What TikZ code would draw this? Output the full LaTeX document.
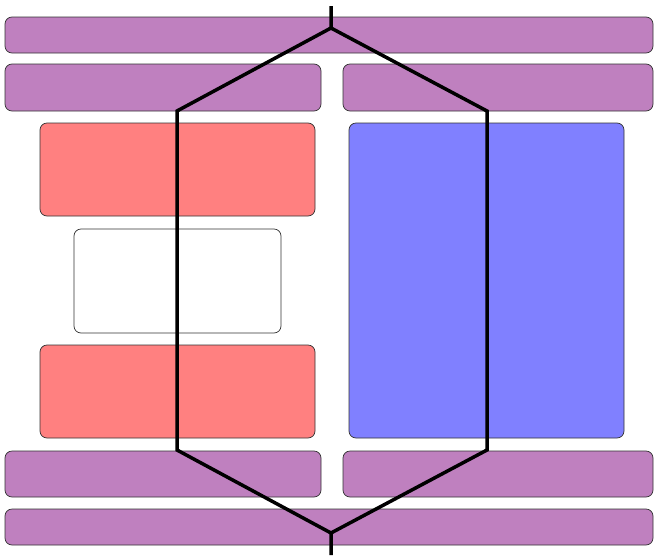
\documentclass[tikz,border=0pt]{standalone}
\begin{document}
\begin{tikzpicture}[x=1pt,y=-1pt,
  boxbase/.style={draw=black!80, line width=0.7pt, rounded corners=7pt},
  bar/.style={boxbase, fill=violet!50},
  redbox/.style={boxbase, fill=red!50},
  bluebox/.style={boxbase, fill=blue!50},
  whitebox/.style={boxbase, fill=white},
  path/.style={draw=black, line width=3.5pt}]
\useasboundingbox (0,0) rectangle (654,555);
\draw[bar] (5,17) rectangle (653,53);
\draw[bar] (5,64) rectangle (321,111);
\draw[bar] (343,64) rectangle (653,111);
\draw[redbox] (40,123) rectangle (315,216);
\draw[whitebox] (74,229) rectangle (281,333);
\draw[redbox] (40,345) rectangle (315,438);
\draw[bluebox] (349,123) rectangle (624,438);
\draw[bar] (5,451) rectangle (321,497);
\draw[bar] (343,451) rectangle (653,497);
\draw[bar] (5,509) rectangle (653,545);
\coordinate (top) at (331,6);
\coordinate (split) at (331,28);
\coordinate (lt) at (177,111);
\coordinate (rt) at (487,111);
\coordinate (lb) at (177,450);
\coordinate (rb) at (487,450);
\coordinate (join) at (331,533);
\coordinate (bot) at (331,555);
\draw[path] (top) -- (split) -- (lt) -- (lb) -- (join) -- (bot);
\draw[path] (split) -- (rt) -- (rb) -- (join);
\end{tikzpicture}
\end{document}
